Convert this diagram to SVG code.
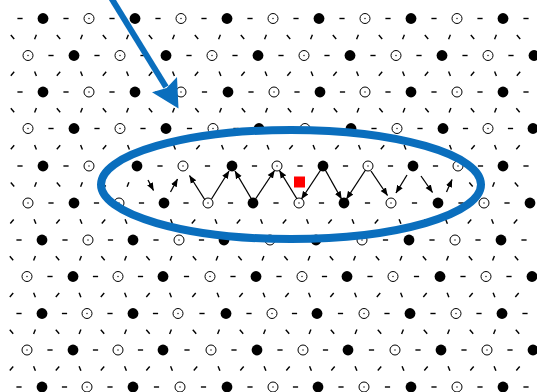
<svg xmlns="http://www.w3.org/2000/svg" width="537" height="392" viewBox="0 0 537 392">
<style>
.d{stroke:#000;stroke-width:1.4;fill:none}
.ch{stroke:#000;stroke-width:1.3;fill:none;marker-end:url(#ah)}
.blue{stroke:#0a6ebd;fill:none}
</style>
<defs>
<circle id="F" r="5.4" fill="#000"/>
<g id="O"><circle r="5" fill="#fff" stroke="#000" stroke-width="1"/><circle r="0.7" fill="#000"/></g>
<line id="H" class="d" x1="-2.6" y1="0" x2="2.6" y2="0"/>
<line id="A" class="d" x1="-1.7" y1="-2" x2="1.7" y2="2"/>
<line id="B" class="d" x1="-0.9" y1="-2.3" x2="0.9" y2="2.3"/>
<line id="C" class="d" x1="0.9" y1="-2.3" x2="-0.9" y2="2.3"/>
<line id="D" class="d" x1="1.7" y1="-2" x2="-1.7" y2="2"/>
<marker id="ah" viewBox="0 0 10 10" refX="9.5" refY="5" markerWidth="8" markerHeight="8" markerUnits="userSpaceOnUse" orient="auto"><path d="M0,1 L10,5 L0,9 z" fill="#000"/></marker>
</defs>

<g id="row-dashes">
<g transform="translate(0,18.5)"><use href="#H" x="20"/><use href="#H" x="66"/><use href="#H" x="112"/><use href="#H" x="158"/><use href="#H" x="204"/><use href="#H" x="250"/><use href="#H" x="296"/><use href="#H" x="342"/><use href="#H" x="388"/><use href="#H" x="434"/><use href="#H" x="480"/><use href="#H" x="526"/></g>
<g transform="translate(0,55.5)"><use href="#H" x="51"/><use href="#H" x="97"/><use href="#H" x="143"/><use href="#H" x="189"/><use href="#H" x="235"/><use href="#H" x="281"/><use href="#H" x="327"/><use href="#H" x="373"/><use href="#H" x="419"/><use href="#H" x="465"/><use href="#H" x="511"/></g>
<g transform="translate(0,92)"><use href="#H" x="20"/><use href="#H" x="66"/><use href="#H" x="112"/><use href="#H" x="158"/><use href="#H" x="204.5"/><use href="#H" x="251"/><use href="#H" x="297"/><use href="#H" x="342.5"/><use href="#H" x="388"/><use href="#H" x="434"/><use href="#H" x="480"/><use href="#H" x="526"/></g>
<g transform="translate(0,128.5)"><use href="#H" x="51"/><use href="#H" x="97"/><use href="#H" x="143"/><use href="#H" x="189.5"/><use href="#H" x="236"/><use href="#H" x="282"/><use href="#H" x="328"/><use href="#H" x="374"/><use href="#H" x="420"/><use href="#H" x="465.5"/><use href="#H" x="510.5"/></g>
<g transform="translate(0,166)"><use href="#H" x="20"/><use href="#H" x="66"/><use href="#H" x="113"/><use href="#H" x="160"/><use href="#H" x="207.5"/><use href="#H" x="254.5"/><use href="#H" x="300"/><use href="#H" x="345.5"/><use href="#H" x="390.5"/><use href="#H" x="435.5"/><use href="#H" x="480.5"/><use href="#H" x="526"/></g>
<g transform="translate(0,203)"><use href="#H" x="51"/><use href="#H" x="96.5"/><use href="#H" x="141.5"/><use href="#H" x="186"/><use href="#H" x="230.5"/><use href="#H" x="276"/><use href="#H" x="321.5"/><use href="#H" x="367.5"/><use href="#H" x="414.5"/><use href="#H" x="461"/><use href="#H" x="507"/></g>
<g transform="translate(0,240)"><use href="#H" x="19"/><use href="#H" x="65"/><use href="#H" x="110.5"/><use href="#H" x="156"/><use href="#H" x="201.5"/><use href="#H" x="247"/><use href="#H" x="293"/><use href="#H" x="339"/><use href="#H" x="385.5"/><use href="#H" x="432"/><use href="#H" x="478"/><use href="#H" x="524"/></g>
<g transform="translate(0,276.5)"><use href="#H" x="50"/><use href="#H" x="95.5"/><use href="#H" x="140.5"/><use href="#H" x="186.5"/><use href="#H" x="233"/><use href="#H" x="279"/><use href="#H" x="324.5"/><use href="#H" x="370"/><use href="#H" x="416.5"/><use href="#H" x="463"/><use href="#H" x="509"/></g>
<g transform="translate(0,313.5)"><use href="#H" x="19"/><use href="#H" x="64.5"/><use href="#H" x="110"/><use href="#H" x="155.5"/><use href="#H" x="202"/><use href="#H" x="249"/><use href="#H" x="294.5"/><use href="#H" x="340.5"/><use href="#H" x="387"/><use href="#H" x="433"/><use href="#H" x="479"/><use href="#H" x="525"/></g>
<g transform="translate(0,350)"><use href="#H" x="50"/><use href="#H" x="95.5"/><use href="#H" x="140.5"/><use href="#H" x="187"/><use href="#H" x="234"/><use href="#H" x="280"/><use href="#H" x="325.5"/><use href="#H" x="371.5"/><use href="#H" x="418"/><use href="#H" x="464"/><use href="#H" x="510"/></g>
<g transform="translate(0,387)"><use href="#H" x="19"/><use href="#H" x="64.5"/><use href="#H" x="110"/><use href="#H" x="156.5"/><use href="#H" x="203.5"/><use href="#H" x="250"/><use href="#H" x="295.5"/><use href="#H" x="341"/><use href="#H" x="387.5"/><use href="#H" x="434"/><use href="#H" x="480"/><use href="#H" x="526"/></g>
</g>

<g id="bond-dashes">
<g transform="translate(0,37)"><use href="#A" x="12.5"/><use href="#A" x="58.5"/><use href="#A" x="104.5"/><use href="#A" x="150.5"/><use href="#A" x="196.5"/><use href="#A" x="242.5"/><use href="#A" x="288.5"/><use href="#A" x="334.5"/><use href="#A" x="380.5"/><use href="#A" x="426.5"/><use href="#A" x="472.5"/><use href="#A" x="518.5"/><use href="#C" x="35.5"/><use href="#C" x="81.5"/><use href="#C" x="127.5"/><use href="#C" x="173.5"/><use href="#C" x="219.5"/><use href="#C" x="265.5"/><use href="#C" x="311.5"/><use href="#C" x="357.5"/><use href="#C" x="403.5"/><use href="#C" x="449.5"/><use href="#C" x="495.5"/></g>
<g transform="translate(0,73.75)"><use href="#D" x="12.5"/><use href="#D" x="58.5"/><use href="#D" x="104.5"/><use href="#D" x="150.5"/><use href="#D" x="196.5"/><use href="#D" x="243"/><use href="#D" x="289"/><use href="#D" x="335"/><use href="#D" x="380.5"/><use href="#D" x="426.5"/><use href="#D" x="472.5"/><use href="#D" x="518.5"/><use href="#B" x="35.5"/><use href="#B" x="81.5"/><use href="#B" x="127.5"/><use href="#B" x="173.5"/><use href="#B" x="220"/><use href="#B" x="266"/><use href="#B" x="312"/><use href="#B" x="357.5"/><use href="#B" x="403.5"/><use href="#B" x="449.5"/><use href="#B" x="495.5"/></g>
<g transform="translate(0,110.25)"><use href="#A" x="12.5"/><use href="#A" x="58.5"/><use href="#A" x="104.5"/><use href="#A" x="150.5"/><use href="#A" x="197"/><use href="#A" x="243.5"/><use href="#A" x="289.5"/><use href="#A" x="335.5"/><use href="#A" x="381"/><use href="#A" x="427"/><use href="#A" x="472.5"/><use href="#A" x="518"/><use href="#C" x="35.5"/><use href="#C" x="81.5"/><use href="#C" x="127.5"/><use href="#C" x="173.5"/><use href="#C" x="220.5"/><use href="#C" x="266.5"/><use href="#C" x="312.5"/><use href="#C" x="358"/><use href="#C" x="404"/><use href="#C" x="450"/><use href="#C" x="495.5"/></g>
<g transform="translate(0,147.25)"><use href="#D" x="12.5"/><use href="#D" x="58.5"/><use href="#D" x="104.5"/><use href="#D" x="151.5"/><use href="#D" x="198"/><use href="#D" x="245.5"/><use href="#D" x="291"/><use href="#D" x="337"/><use href="#D" x="382.5"/><use href="#D" x="428"/><use href="#D" x="473"/><use href="#D" x="518"/><use href="#B" x="35.5"/><use href="#B" x="81.5"/><use href="#B" x="128.5"/><use href="#B" x="174.5"/><use href="#B" x="222.5"/><use href="#B" x="268"/><use href="#B" x="314"/><use href="#B" x="359.5"/><use href="#B" x="405"/><use href="#B" x="450.5"/><use href="#B" x="495.5"/></g>
<g transform="translate(0,184.5)"><use href="#A" x="12.5"/><use href="#A" x="58.5"/><use href="#A" x="104"/><use href="#A" x="471"/><use href="#A" x="516.5"/><use href="#C" x="35.5"/><use href="#C" x="81.5"/><use href="#C" x="128"/><use href="#C" x="493.5"/></g>
<g transform="translate(0,221.5)"><use href="#D" x="12"/><use href="#D" x="58"/><use href="#D" x="103.5"/><use href="#D" x="148.5"/><use href="#D" x="193.5"/><use href="#D" x="238.5"/><use href="#D" x="284.5"/><use href="#D" x="330"/><use href="#D" x="376.5"/><use href="#D" x="423.5"/><use href="#D" x="469.5"/><use href="#D" x="515.5"/><use href="#B" x="35"/><use href="#B" x="81"/><use href="#B" x="126"/><use href="#B" x="171.5"/><use href="#B" x="216"/><use href="#B" x="261.5"/><use href="#B" x="307.5"/><use href="#B" x="353"/><use href="#B" x="400"/><use href="#B" x="446.5"/><use href="#B" x="492.5"/></g>
<g transform="translate(0,258.25)"><use href="#A" x="11.5"/><use href="#A" x="57.5"/><use href="#A" x="103"/><use href="#A" x="148"/><use href="#A" x="194.5"/><use href="#A" x="240"/><use href="#A" x="286"/><use href="#A" x="331.5"/><use href="#A" x="377.5"/><use href="#A" x="424.5"/><use href="#A" x="470.5"/><use href="#A" x="516.5"/><use href="#C" x="34.5"/><use href="#C" x="80.5"/><use href="#C" x="125.5"/><use href="#C" x="171"/><use href="#C" x="217"/><use href="#C" x="263"/><use href="#C" x="309"/><use href="#C" x="354.5"/><use href="#C" x="401"/><use href="#C" x="447.5"/><use href="#C" x="493.5"/></g>
<g transform="translate(0,295)"><use href="#D" x="11.5"/><use href="#D" x="57.5"/><use href="#D" x="102.5"/><use href="#D" x="148"/><use href="#D" x="194"/><use href="#D" x="241"/><use href="#D" x="287"/><use href="#D" x="332"/><use href="#D" x="378.5"/><use href="#D" x="425"/><use href="#D" x="471"/><use href="#D" x="517"/><use href="#B" x="34.5"/><use href="#B" x="80"/><use href="#B" x="125.5"/><use href="#B" x="170.5"/><use href="#B" x="218"/><use href="#B" x="264"/><use href="#B" x="309.5"/><use href="#B" x="355.5"/><use href="#B" x="401.5"/><use href="#B" x="448"/><use href="#B" x="494"/></g>
<g transform="translate(0,331.75)"><use href="#A" x="11.5"/><use href="#A" x="57.5"/><use href="#A" x="102.5"/><use href="#A" x="148"/><use href="#A" x="194.5"/><use href="#A" x="241.5"/><use href="#A" x="287.5"/><use href="#A" x="332.5"/><use href="#A" x="379.5"/><use href="#A" x="425.5"/><use href="#A" x="471.5"/><use href="#A" x="517.5"/><use href="#C" x="34.5"/><use href="#C" x="80"/><use href="#C" x="125.5"/><use href="#C" x="170.5"/><use href="#C" x="218.5"/><use href="#C" x="264.5"/><use href="#C" x="310"/><use href="#C" x="356"/><use href="#C" x="402.5"/><use href="#C" x="448.5"/><use href="#C" x="494.5"/></g>
<g transform="translate(0,368.5)"><use href="#D" x="11.5"/><use href="#D" x="57.5"/><use href="#D" x="102.5"/><use href="#D" x="148"/><use href="#D" x="195.5"/><use href="#D" x="242"/><use href="#D" x="288"/><use href="#D" x="333"/><use href="#D" x="379.5"/><use href="#D" x="426"/><use href="#D" x="472"/><use href="#D" x="518"/><use href="#B" x="34.5"/><use href="#B" x="80"/><use href="#B" x="125.5"/><use href="#B" x="171.5"/><use href="#B" x="219"/><use href="#B" x="265"/><use href="#B" x="310.5"/><use href="#B" x="356"/><use href="#B" x="403"/><use href="#B" x="449"/><use href="#B" x="495"/></g>
</g>

<g id="row0" transform="translate(0,18.5)"><use href="#F" x="43"/><use href="#O" x="89"/><use href="#F" x="135"/><use href="#O" x="181"/><use href="#F" x="227"/><use href="#O" x="273"/><use href="#F" x="319"/><use href="#O" x="365"/><use href="#F" x="411"/><use href="#O" x="457"/><use href="#F" x="503"/></g>
<g id="row1" transform="translate(0,55.5)"><use href="#O" x="28"/><use href="#F" x="74"/><use href="#O" x="120"/><use href="#F" x="166"/><use href="#O" x="212"/><use href="#F" x="258"/><use href="#O" x="304"/><use href="#F" x="350"/><use href="#O" x="396"/><use href="#F" x="442"/><use href="#O" x="488"/><use href="#F" x="534"/></g>
<g id="row2" transform="translate(0,92)"><use href="#F" x="43"/><use href="#O" x="89"/><use href="#F" x="135"/><use href="#O" x="181"/><use href="#F" x="228"/><use href="#O" x="274"/><use href="#F" x="320"/><use href="#O" x="365"/><use href="#F" x="411"/><use href="#O" x="457"/><use href="#F" x="503"/></g>
<g id="row3" transform="translate(0,128.5)"><use href="#O" x="28"/><use href="#F" x="74"/><use href="#O" x="120"/><use href="#F" x="166"/><use href="#O" x="213"/><use href="#F" x="259"/><use href="#O" x="305"/><use href="#F" x="351"/><use href="#O" x="397"/><use href="#F" x="443"/><use href="#O" x="488"/><use href="#F" x="533"/></g>
<g id="row4" transform="translate(0,166)"><use href="#F" x="43"/><use href="#O" x="89"/><use href="#F" x="137"/><use href="#O" x="183"/><use href="#F" x="232"/><use href="#O" x="277"/><use href="#F" x="323"/><use href="#O" x="368"/><use href="#F" x="413"/><use href="#O" x="458"/><use href="#F" x="503"/></g>
<g id="row5" transform="translate(0,203)"><use href="#O" x="28"/><use href="#F" x="74"/><use href="#O" x="119"/><use href="#F" x="164"/><use href="#O" x="208"/><use href="#F" x="253"/><use href="#O" x="299"/><use href="#F" x="344"/><use href="#O" x="391"/><use href="#F" x="438"/><use href="#O" x="484"/><use href="#F" x="530"/></g>
<g id="row6" transform="translate(0,240)"><use href="#F" x="42"/><use href="#O" x="88"/><use href="#F" x="133"/><use href="#O" x="179"/><use href="#F" x="224"/><use href="#O" x="270"/><use href="#F" x="316"/><use href="#O" x="362"/><use href="#F" x="409"/><use href="#O" x="455"/><use href="#F" x="501"/></g>
<g id="row7" transform="translate(0,276.5)"><use href="#O" x="27"/><use href="#F" x="73"/><use href="#O" x="118"/><use href="#F" x="163"/><use href="#O" x="210"/><use href="#F" x="256"/><use href="#O" x="302"/><use href="#F" x="347"/><use href="#O" x="393"/><use href="#F" x="440"/><use href="#O" x="486"/><use href="#F" x="532"/></g>
<g id="row8" transform="translate(0,313.5)"><use href="#F" x="42"/><use href="#O" x="87"/><use href="#F" x="133"/><use href="#O" x="178"/><use href="#F" x="226"/><use href="#O" x="272"/><use href="#F" x="317"/><use href="#O" x="364"/><use href="#F" x="410"/><use href="#O" x="456"/><use href="#F" x="502"/></g>
<g id="row9" transform="translate(0,350)"><use href="#O" x="27"/><use href="#F" x="73"/><use href="#O" x="118"/><use href="#F" x="163"/><use href="#O" x="211"/><use href="#F" x="257"/><use href="#O" x="303"/><use href="#F" x="348"/><use href="#O" x="395"/><use href="#F" x="441"/><use href="#O" x="487"/><use href="#F" x="533"/></g>
<g id="row10" transform="translate(0,387)"><use href="#F" x="42"/><use href="#O" x="87"/><use href="#F" x="133"/><use href="#O" x="180"/><use href="#F" x="227"/><use href="#O" x="273"/><use href="#F" x="318"/><use href="#O" x="364"/><use href="#F" x="411"/><use href="#O" x="457"/><use href="#F" x="503"/></g>

<g id="connectors">
<line class="ch" x1="170.5" y1="192" x2="177.5" y2="179"/>
<line class="ch" x1="148" y1="180" x2="153.5" y2="190.5"/>
<line class="ch" x1="205" y1="200" x2="189.5" y2="175.5"/>
<line class="ch" x1="211.5" y1="199" x2="229" y2="171"/>
<line class="ch" x1="251.5" y1="199" x2="235" y2="171"/>
<line class="ch" x1="255.5" y1="199" x2="274.5" y2="170.5"/>
<line class="ch" x1="297" y1="199" x2="279.5" y2="170.5"/>
<line class="ch" x1="321" y1="169.5" x2="301.5" y2="199"/>
<line class="ch" x1="325" y1="169.5" x2="341.5" y2="199"/>
<line class="ch" x1="365.5" y1="170" x2="346.5" y2="199"/>
<line class="ch" x1="371" y1="171" x2="387.5" y2="195.5"/>
<line class="ch" x1="407" y1="175" x2="396" y2="193"/>
<line class="ch" x1="421" y1="176" x2="432.5" y2="192.5"/>
<line class="ch" x1="446.5" y1="192" x2="452" y2="179.5"/>
</g>

<rect id="marker-square" x="294" y="176.5" width="11" height="11" fill="#ff0000"/>

<ellipse id="loop" class="blue" cx="291" cy="184.5" rx="190" ry="54.5" stroke-width="8"/>

<g id="pointer">
<line class="blue" x1="110" y1="-4" x2="166" y2="87" stroke-width="6"/>
<polygon points="178.5,108.5 152,92.2 166.6,88 177,77" fill="#0a6ebd"/>
</g>
</svg>
